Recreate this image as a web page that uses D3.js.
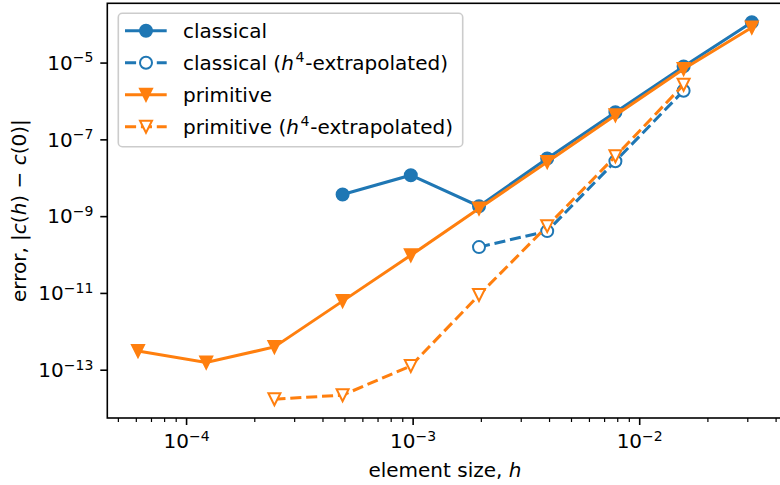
<!DOCTYPE html>
<html>
<head>
<meta charset="utf-8">
<script src="https://cdn.jsdelivr.net/npm/d3@7"></script>
<style>
	body { margin: 0; background: #fff; }
	svg { display: block; font-family: 'DejaVu Sans', sans-serif; }
</style>
</head>
<body>
<svg id="convergence-svg" width="780" height="485"></svg>
<script>
// element sizes h = 1/16384 ... 1/32
const hValues = [1/16384, 1/8192, 1/4096, 1/2048, 1/1024, 1/512, 1/256, 1/128, 1/64, 1/32];

// errors, null where a series has no point
const classicalErr = [null, null, null, 3.78e-9, 1.2e-8, 1.87e-9, 3.26e-8, 5.22e-7, 8.2e-6, 1.16e-4];
const classicalExtrapErr = [null, null, null, null, null, 1.61e-10, 4.2e-10, 2.77e-8, 1.91e-6, null];
const primitiveErr = [3.18e-13, 1.58e-13, 4.04e-13, 6.3e-12, 9.8e-11, 1.63e-9, 2.66e-8, 4.37e-7, 6.98e-6, 8.47e-5];
const primitiveExtrapErr = [null, null, 1.76e-14, 2.24e-14, 1.29e-13, 9.1e-12, 5.66e-10, 3.74e-8, 2.74e-6, null];

const seriesNames = ['classical', 'classical (h4-extrapolated)', 'primitive', 'primitive (h4-extrapolated)'];
const xTickExponents = [-4, -3, -2];
const yTickExponents = [-13, -11, -9, -7, -5];

const blue = '#1f77b4';
const orange = '#ff7f0e';
const fontSize = 20;
const supSize = 14;
const lw = 3;

const svg = d3.select('#convergence-svg');
const plot = {left: 107.3, right: 782.5, top: 3.3, bottom: 418};

const x = d3.scaleLog()
	.domain([Math.pow(10, -4.3499), Math.pow(10, -1.3697)])
	.range([plot.left, plot.right]);

const y = d3.scaleLog()
	.domain([Math.pow(10, -14.245), Math.pow(10, -3.443)])
	.range([plot.bottom, plot.top]);

const seriesStyle = [
	{values: classicalErr, color: blue, marker: 'circle', open: false, dashed: false},
	{values: classicalExtrapErr, color: blue, marker: 'circle', open: true, dashed: true},
	{values: primitiveErr, color: orange, marker: 'triangle', open: false, dashed: false},
	{values: primitiveExtrapErr, color: orange, marker: 'triangle', open: true, dashed: true}
];

function markerPath(type) {
	const s = 6;
	if (type === 'circle') {
		return 'M' + s + ',0A' + s + ',' + s + ' 0 1,1 ' + (-s) + ',0A' + s + ',' + s + ' 0 1,1 ' + s + ',0Z';
	}
	return 'M' + (-s) + ',' + (-s) + 'L' + s + ',' + (-s) + 'L0,' + s + 'Z';
}

function drawMarker(g, type, color, open) {
	g.append('path')
		.attr('d', markerPath(type))
		.style('fill', open ? '#fff' : color)
		.style('stroke', color)
		.style('stroke-width', 2)
		.style('stroke-linejoin', 'miter');
}

function addPower(textSel, exponent) {
	textSel.append('tspan').text('10');
	textSel.append('tspan')
		.attr('dy', -7.5)
		.style('font-size', supSize + 'px')
		.text('\u2212' + Math.abs(exponent));
}

function drawAxes() {
	const axes = svg.append('g').attr('class', 'axes');

	// x minor ticks
	let minor = [];
	for (let e = -5; e <= -1; e++) {
		for (let k = 2; k <= 9; k++) {
			const v = k * Math.pow(10, e);
			if (x(v) >= plot.left && x(v) <= plot.right) minor.push(v);
		}
	}
	axes.selectAll('.x-minor')
		.data(minor)
		.enter().append('line')
		.attr('class', 'x-minor')
		.attr('x1', (d) => { return x(d); })
		.attr('x2', (d) => { return x(d); })
		.attr('y1', plot.bottom)
		.attr('y2', plot.bottom + 4)
		.style('stroke', '#000')
		.style('stroke-width', 1.2);

	axes.selectAll('.x-major')
		.data(xTickExponents)
		.enter().append('line')
		.attr('class', 'x-major')
		.attr('x1', (d) => { return x(Math.pow(10, d)); })
		.attr('x2', (d) => { return x(Math.pow(10, d)); })
		.attr('y1', plot.bottom)
		.attr('y2', plot.bottom + 7)
		.style('stroke', '#000')
		.style('stroke-width', 1.6);

	axes.selectAll('.x-label')
		.data(xTickExponents)
		.enter().append('text')
		.attr('class', 'x-label')
		.attr('x', (d) => { return x(Math.pow(10, d)); })
		.attr('y', 448)
		.attr('text-anchor', 'middle')
		.style('font-size', fontSize + 'px')
		.each(function(d) { addPower(d3.select(this), d); });

	axes.selectAll('.y-major')
		.data(yTickExponents)
		.enter().append('line')
		.attr('class', 'y-major')
		.attr('x1', plot.left - 7)
		.attr('x2', plot.left)
		.attr('y1', (d) => { return y(Math.pow(10, d)); })
		.attr('y2', (d) => { return y(Math.pow(10, d)); })
		.style('stroke', '#000')
		.style('stroke-width', 1.6);

	axes.selectAll('.y-label')
		.data(yTickExponents)
		.enter().append('text')
		.attr('class', 'y-label')
		.attr('x', plot.left - 14)
		.attr('y', (d) => { return y(Math.pow(10, d)) + 6.8; })
		.attr('text-anchor', 'end')
		.style('font-size', fontSize + 'px')
		.each(function(d) { addPower(d3.select(this), d); });

	axes.append('rect')
		.attr('x', plot.left)
		.attr('y', plot.top)
		.attr('width', plot.right - plot.left)
		.attr('height', plot.bottom - plot.top)
		.style('fill', 'none')
		.style('stroke', '#000')
		.style('stroke-width', 1.6);

	const xLabel = svg.append('text')
		.attr('x', (plot.left + plot.right) / 2)
		.attr('y', 477)
		.attr('text-anchor', 'middle')
		.style('font-size', fontSize + 'px');
	xLabel.append('tspan').text('element size, ');
	xLabel.append('tspan').style('font-style', 'italic').text('h');

	const yLabel = svg.append('text')
		.attr('transform', 'translate(26,' + ((plot.top + plot.bottom) / 2) + ') rotate(-90)')
		.attr('text-anchor', 'middle')
		.style('font-size', fontSize + 'px');
	const parts = [['error, |', false], ['c', true], ['(', false], ['h', true], [') \u2212 ', false], ['c', true], ['(0)|', false]];
	parts.forEach((p) => {
		yLabel.append('tspan')
			.style('font-style', p[1] ? 'italic' : 'normal')
			.text(p[0]);
	});
}

function drawSeries() {
	svg.append('clipPath')
		.attr('id', 'plot-clip')
		.append('rect')
		.attr('x', plot.left)
		.attr('y', plot.top)
		.attr('width', plot.right - plot.left)
		.attr('height', plot.bottom - plot.top);

	const layer = svg.append('g').attr('clip-path', 'url(#plot-clip)');

	const line = d3.line()
		.defined((d) => { return d.v !== null; })
		.x((d) => { return x(d.h); })
		.y((d) => { return y(d.v); });

	seriesStyle.forEach((s) => {
		const pts = hValues.map((h, i) => { return {h: h, v: s.values[i]}; });
		const g = layer.append('g');

		g.append('path')
			.datum(pts)
			.attr('d', line)
			.style('fill', 'none')
			.style('stroke', s.color)
			.style('stroke-width', lw)
			.style('stroke-dasharray', s.dashed ? '11.1,4.8' : null);

		g.selectAll('.marker')
			.data(pts.filter((d) => { return d.v !== null; }))
			.enter().append('g')
			.attr('class', 'marker')
			.attr('transform', (d) => { return 'translate(' + x(d.h) + ',' + y(d.v) + ')'; })
			.each(function() { drawMarker(d3.select(this), s.marker, s.color, s.open); });
	});
}

function drawLegend() {
	const legend = svg.append('g').attr('class', 'legend');

	legend.append('rect')
		.attr('x', 118.3)
		.attr('y', 13.3)
		.attr('width', 344.4)
		.attr('height', 133.4)
		.attr('rx', 4)
		.style('fill', 'rgba(255,255,255,0.8)')
		.style('stroke', '#cccccc')
		.style('stroke-width', 1.6);

	const rowY = d3.scaleLinear().domain([0, 3]).range([30.7, 126.7]);

	seriesNames.forEach((name, i) => {
		const s = seriesStyle[i];
		const cy = rowY(i);
		const row = legend.append('g');

		row.append('line')
			.attr('x1', 125)
			.attr('x2', 166.7)
			.attr('y1', cy)
			.attr('y2', cy)
			.style('stroke', s.color)
			.style('stroke-width', lw)
			.style('stroke-dasharray', s.dashed ? '11.1,4.8' : null);

		const m = row.append('g').attr('transform', 'translate(146,' + cy + ')');
		drawMarker(m, s.marker, s.color, s.open);

		const label = row.append('text')
			.attr('x', 183)
			.attr('y', cy + 7)
			.style('font-size', fontSize + 'px');

		if (name.indexOf('h4') === -1) {
			label.text(name);
		} else {
			const base = name.split(' (')[0];
			label.append('tspan').text(base + ' (');
			label.append('tspan').style('font-style', 'italic').text('h');
			label.append('tspan').attr('dx', 1.5).attr('dy', -7.5).style('font-size', supSize + 'px').text('4');
			label.append('tspan').attr('dx', 1).attr('dy', 7.5).text('-extrapolated)');
		}
	});
}

drawSeries();
drawAxes();
drawLegend();
</script>
</body>
</html>
